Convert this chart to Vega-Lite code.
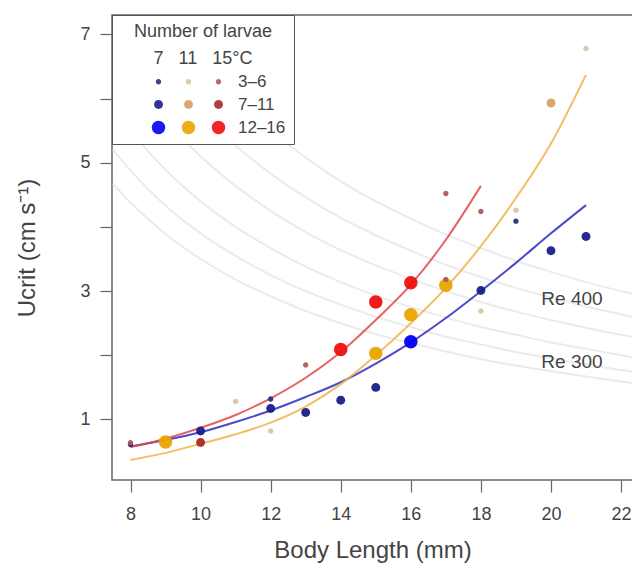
{
  "$schema": "https://vega.github.io/schema/vega-lite/v6.json",
  "width": 521,
  "height": 465,
  "autosize": {"type": "none"},
  "padding": {"left": 112, "top": 15, "right": 0, "bottom": 87},
  "background": "white",
  "config": {
    "font": "Liberation Sans",
    "view": {"stroke": "#666666", "strokeWidth": 1.5},
    "axis": {
      "domain": false, "grid": false,
      "tickColor": "#666666", "tickWidth": 1.2, "tickSize": 12,
      "labelColor": "#444444", "labelFontSize": 18, "labelFont": "Liberation Sans",
      "titleColor": "#444444", "titleFontSize": 24, "titleFontWeight": "normal", "titleFont": "Liberation Sans"
    }
  },
  "datasets": {
    "re": [
      {"k":"a","L":7.5,"U":4.67},{"k":"a","L":8,"U":4.38},{"k":"a","L":9,"U":3.89},{"k":"a","L":10,"U":3.5},{"k":"a","L":11,"U":3.18},{"k":"a","L":12,"U":2.92},{"k":"a","L":13,"U":2.69},{"k":"a","L":14,"U":2.5},{"k":"a","L":15,"U":2.33},{"k":"a","L":16,"U":2.19},{"k":"a","L":17,"U":2.06},{"k":"a","L":18,"U":1.94},{"k":"a","L":19,"U":1.84},{"k":"a","L":20,"U":1.75},{"k":"a","L":21,"U":1.67},{"k":"a","L":22,"U":1.59},{"k":"a","L":22.4,"U":1.56},
      {"k":"b","L":7.5,"U":5.2},{"k":"b","L":8,"U":4.88},{"k":"b","L":9,"U":4.33},{"k":"b","L":10,"U":3.9},{"k":"b","L":11,"U":3.55},{"k":"b","L":12,"U":3.25},{"k":"b","L":13,"U":3.0},{"k":"b","L":14,"U":2.79},{"k":"b","L":15,"U":2.6},{"k":"b","L":16,"U":2.44},{"k":"b","L":17,"U":2.29},{"k":"b","L":18,"U":2.17},{"k":"b","L":19,"U":2.05},{"k":"b","L":20,"U":1.95},{"k":"b","L":21,"U":1.86},{"k":"b","L":22,"U":1.77},{"k":"b","L":22.4,"U":1.74},
      {"k":"c","L":7.5,"U":5.87},{"k":"c","L":8,"U":5.5},{"k":"c","L":9,"U":4.89},{"k":"c","L":10,"U":4.4},{"k":"c","L":11,"U":4.0},{"k":"c","L":12,"U":3.67},{"k":"c","L":13,"U":3.38},{"k":"c","L":14,"U":3.14},{"k":"c","L":15,"U":2.93},{"k":"c","L":16,"U":2.75},{"k":"c","L":17,"U":2.59},{"k":"c","L":18,"U":2.44},{"k":"c","L":19,"U":2.32},{"k":"c","L":20,"U":2.2},{"k":"c","L":21,"U":2.1},{"k":"c","L":22,"U":2.0},{"k":"c","L":22.4,"U":1.96},
      {"k":"d","L":7.5,"U":6.8},{"k":"d","L":8,"U":6.38},{"k":"d","L":9,"U":5.67},{"k":"d","L":10,"U":5.1},{"k":"d","L":11,"U":4.64},{"k":"d","L":12,"U":4.25},{"k":"d","L":13,"U":3.92},{"k":"d","L":14,"U":3.64},{"k":"d","L":15,"U":3.4},{"k":"d","L":16,"U":3.19},{"k":"d","L":17,"U":3.0},{"k":"d","L":18,"U":2.83},{"k":"d","L":19,"U":2.68},{"k":"d","L":20,"U":2.55},{"k":"d","L":21,"U":2.43},{"k":"d","L":22,"U":2.32},{"k":"d","L":22.4,"U":2.28},
      {"k":"e","L":7.5,"U":7.73},{"k":"e","L":8,"U":7.25},{"k":"e","L":9,"U":6.44},{"k":"e","L":10,"U":5.8},{"k":"e","L":11,"U":5.27},{"k":"e","L":12,"U":4.83},{"k":"e","L":13,"U":4.46},{"k":"e","L":14,"U":4.14},{"k":"e","L":15,"U":3.87},{"k":"e","L":16,"U":3.63},{"k":"e","L":17,"U":3.41},{"k":"e","L":18,"U":3.22},{"k":"e","L":19,"U":3.05},{"k":"e","L":20,"U":2.9},{"k":"e","L":21,"U":2.76},{"k":"e","L":22,"U":2.64},{"k":"e","L":22.4,"U":2.59},
      {"k":"f","L":8,"U":8.25},{"k":"f","L":9,"U":7.33},{"k":"f","L":10,"U":6.6},{"k":"f","L":11,"U":6.0},{"k":"f","L":12,"U":5.5},{"k":"f","L":13,"U":5.08},{"k":"f","L":14,"U":4.71},{"k":"f","L":15,"U":4.4},{"k":"f","L":16,"U":4.13},{"k":"f","L":17,"U":3.88},{"k":"f","L":18,"U":3.67},{"k":"f","L":19,"U":3.47},{"k":"f","L":20,"U":3.3},{"k":"f","L":21,"U":3.14},{"k":"f","L":22,"U":3.0},{"k":"f","L":22.4,"U":2.95}
    ],
    "relabels": [
      {"L": 20.6, "U": 2.88, "label": "Re 400"},
      {"L": 20.6, "U": 1.9, "label": "Re 300"}
    ],
    "fits": [
      {"temp":"7","L":8,"U":0.58},{"temp":"7","L":9,"U":0.68},{"temp":"7","L":10,"U":0.8},{"temp":"7","L":11,"U":0.96},{"temp":"7","L":12,"U":1.14},{"temp":"7","L":13,"U":1.35},{"temp":"7","L":14,"U":1.58},{"temp":"7","L":15,"U":1.87},{"temp":"7","L":16,"U":2.2},{"temp":"7","L":17,"U":2.58},{"temp":"7","L":18,"U":3.0},{"temp":"7","L":19,"U":3.44},{"temp":"7","L":20,"U":3.9},{"temp":"7","L":21,"U":4.34},
      {"temp":"11","L":8,"U":0.37},{"temp":"11","L":9,"U":0.48},{"temp":"11","L":10,"U":0.62},{"temp":"11","L":11,"U":0.77},{"temp":"11","L":12,"U":0.95},{"temp":"11","L":13,"U":1.2},{"temp":"11","L":14,"U":1.55},{"temp":"11","L":15,"U":2.0},{"temp":"11","L":16,"U":2.5},{"temp":"11","L":17,"U":3.05},{"temp":"11","L":18,"U":3.7},{"temp":"11","L":19,"U":4.45},{"temp":"11","L":20,"U":5.3},{"temp":"11","L":21,"U":6.37},
      {"temp":"15","L":8,"U":0.57},{"temp":"15","L":9,"U":0.7},{"temp":"15","L":10,"U":0.87},{"temp":"15","L":11,"U":1.07},{"temp":"15","L":12,"U":1.33},{"temp":"15","L":13,"U":1.65},{"temp":"15","L":14,"U":2.05},{"temp":"15","L":15,"U":2.55},{"temp":"15","L":16,"U":3.1},{"temp":"15","L":17,"U":3.8},{"temp":"15","L":18,"U":4.64}
    ],
    "points": [
      {"L":8,"U":0.61,"g":"7 3–6"},
      {"L":10,"U":0.82,"g":"7 7–11"},
      {"L":12,"U":1.17,"g":"7 7–11"},
      {"L":12,"U":1.32,"g":"7 3–6"},
      {"L":13,"U":1.11,"g":"7 7–11"},
      {"L":14,"U":1.3,"g":"7 7–11"},
      {"L":15,"U":1.5,"g":"7 7–11"},
      {"L":16,"U":2.21,"g":"7 12–16"},
      {"L":18,"U":3.01,"g":"7 7–11"},
      {"L":19,"U":4.09,"g":"7 3–6"},
      {"L":20,"U":3.63,"g":"7 7–11"},
      {"L":21,"U":3.85,"g":"7 7–11"},
      {"L":9,"U":0.65,"g":"11 12–16"},
      {"L":11,"U":1.28,"g":"11 3–6"},
      {"L":12,"U":0.82,"g":"11 3–6"},
      {"L":15,"U":2.03,"g":"11 12–16"},
      {"L":16,"U":2.63,"g":"11 12–16"},
      {"L":17,"U":3.09,"g":"11 12–16"},
      {"L":18,"U":2.69,"g":"11 3–6"},
      {"L":19,"U":4.26,"g":"11 3–6"},
      {"L":20,"U":5.93,"g":"11 7–11"},
      {"L":21,"U":6.78,"g":"11 3–6"},
      {"L":8,"U":0.64,"g":"15 3–6"},
      {"L":10,"U":0.64,"g":"15 7–11"},
      {"L":13,"U":1.85,"g":"15 3–6"},
      {"L":14,"U":2.09,"g":"15 12–16"},
      {"L":15,"U":2.83,"g":"15 12–16"},
      {"L":16,"U":3.13,"g":"15 12–16"},
      {"L":17,"U":3.18,"g":"15 3–6"},
      {"L":17,"U":4.52,"g":"15 3–6"},
      {"L":18,"U":4.24,"g":"15 3–6"}
    ]
  },
  "layer": [
    {
      "data": {"name": "re"},
      "mark": {"type": "line", "clip": true, "color": "#ebebeb", "strokeWidth": 2, "interpolate": "monotone"},
      "encoding": {
        "x": {"field": "L", "type": "quantitative",
              "scale": {"domain": [7.472, 22.341], "nice": false, "zero": false},
              "axis": {"values": [8,10,12,14,16,18,20,22], "labelPadding": 13, "title": "Body Length (mm)", "titlePadding": 15}},
        "y": {"field": "U", "type": "quantitative",
              "scale": {"domain": [0.057, 7.302], "nice": false, "zero": false},
              "axis": {"values": [1,2,3,4,5,6,7], "format": "d", "labelExpr": "datum.value % 2 == 1 ? datum.label : ''", "labelPadding": 10, "title": "Ucrit (cm s⁻¹)", "titlePadding": 40}},
        "detail": {"field": "k"}
      }
    },
    {
      "data": {"name": "relabels"},
      "mark": {"type": "text", "fontSize": 19, "color": "#444444", "align": "center", "baseline": "middle"},
      "encoding": {
        "x": {"field": "L", "type": "quantitative"},
        "y": {"field": "U", "type": "quantitative"},
        "text": {"field": "label"}
      }
    },
    {
      "data": {"name": "fits"},
      "mark": {"type": "line", "strokeWidth": 2, "interpolate": "monotone", "opacity": 0.85},
      "encoding": {
        "x": {"field": "L", "type": "quantitative"},
        "y": {"field": "U", "type": "quantitative"},
        "stroke": {"field": "temp", "type": "nominal",
                   "scale": {"domain": ["7","11","15"], "range": ["#2b2bbf","#f2b24a","#e04848"]},
                   "legend": null}
      }
    },
    {
      "data": {"name": "points"},
      "mark": {"type": "point", "filled": true, "size": 150, "opacity": 0.95},
      "encoding": {
        "x": {"field": "L", "type": "quantitative"},
        "y": {"field": "U", "type": "quantitative"},
        "color": {"field": "g", "type": "nominal",
                  "scale": {"domain": ["s1","s2","s3","7 3–6","7 7–11","7 12–16","11 3–6","11 7–11","11 12–16","15 3–6","15 7–11","15 12–16"],
                            "range": ["transparent","transparent","transparent","#2e2e7e","#1c1c8c","#0000f0","#dcc4a4","#d6a262","#eaa400","#b05a5a","#a82828","#ee1010"]},
                  "legend": {
                    "orient": "top-left", "offset": 0, "columns": 4,
                    "title": ["Number of larvae", "7\u00a0\u00a0\u00a011\u00a0\u00a0\u00a015°C\u00a0\u00a0\u00a0\u00a0"],
                    "titleAnchor": "middle", "titleFontSize": 18, "titleFontWeight": "normal", "titleColor": "#444444",
                    "titleLineHeight": 27, "titlePadding": 5,
                    "padding": 8, "strokeColor": "#555555", "fillColor": "white",
                    "symbolSize": 150, "symbolStrokeWidth": 0, "symbolOffset": 0, "symbolOpacity": 1,
                    "labelExpr": "datum.label == '15 3–6' ? '\u2007\u20073–6' : datum.label == '15 7–11' ? '\u20077–11' : datum.label == '15 12–16' ? '12–16' : ''",
                    "labelAlign": "left", "labelOffset": 11, "labelFontSize": 17, "labelColor": "#444444",
                    "columnPadding": 2, "rowPadding": 5
                  }},
        "shape": {"field": "g", "type": "nominal",
                  "scale": {"domain": ["s1","s2","s3","7 3–6","7 7–11","7 12–16","11 3–6","11 7–11","11 12–16","15 3–6","15 7–11","15 12–16"],
                            "range": ["M-0.01,0L0.01,0Z","M-0.01,0L0.01,0Z","M-0.01,0L0.01,0Z",
                                      "M-0.44,0A0.44,0.44,0,1,0,0.44,0A0.44,0.44,0,1,0,-0.44,0Z","M-0.73,0A0.73,0.73,0,1,0,0.73,0A0.73,0.73,0,1,0,-0.73,0Z","M-1.1,0A1.1,1.1,0,1,0,1.1,0A1.1,1.1,0,1,0,-1.1,0Z",
                                      "M-0.44,0A0.44,0.44,0,1,0,0.44,0A0.44,0.44,0,1,0,-0.44,0Z","M-0.73,0A0.73,0.73,0,1,0,0.73,0A0.73,0.73,0,1,0,-0.73,0Z","M-1.1,0A1.1,1.1,0,1,0,1.1,0A1.1,1.1,0,1,0,-1.1,0Z",
                                      "M-0.44,0A0.44,0.44,0,1,0,0.44,0A0.44,0.44,0,1,0,-0.44,0Z","M-0.73,0A0.73,0.73,0,1,0,0.73,0A0.73,0.73,0,1,0,-0.73,0Z","M-1.1,0A1.1,1.1,0,1,0,1.1,0A1.1,1.1,0,1,0,-1.1,0Z"]}}
      }
    }
  ]
}
